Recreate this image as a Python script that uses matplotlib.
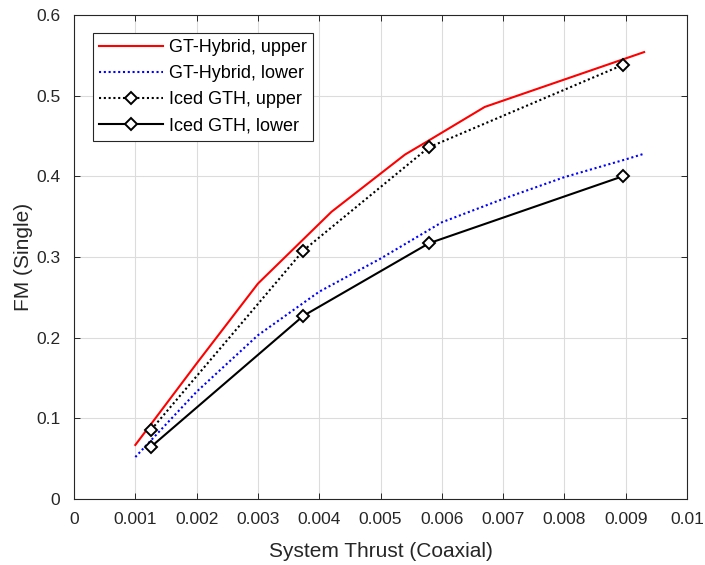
import matplotlib
matplotlib.use("Agg")
import matplotlib.pyplot as plt
import numpy as np

# GT-Hybrid curves
gth_x = [0.001, 0.002, 0.003, 0.0042, 0.0054, 0.0058, 0.0067, 0.0093]
gth_upper = [0.067, 0.168, 0.267, 0.356, 0.427, 0.445, 0.486, 0.554]
gthl_x = [0.001, 0.002, 0.003, 0.004, 0.005, 0.006, 0.007, 0.008, 0.009, 0.0093]
gth_lower = [0.052, 0.133, 0.203, 0.257, 0.298, 0.343, 0.372, 0.399, 0.421, 0.428]

# Iced GTH points
iced_x = [0.00126, 0.00374, 0.00579, 0.00895]
iced_upper = [0.086, 0.308, 0.436, 0.538]
iced_lower = [0.065, 0.227, 0.317, 0.400]

xticks = np.arange(0, 0.0101, 0.001)
xlabels = ["0", "0.001", "0.002", "0.003", "0.004", "0.005",
           "0.006", "0.007", "0.008", "0.009", "0.01"]
yticks = [0, 0.1, 0.2, 0.3, 0.4, 0.5, 0.6]
ylabels = ["0", "0.1", "0.2", "0.3", "0.4", "0.5", "0.6"]

plt.rcParams['font.family'] = ['Liberation Sans', 'DejaVu Sans']

fig = plt.figure(figsize=(7.05, 5.65), dpi=100)
ax = fig.add_axes([0.105, 0.1168, 0.8695, 0.8567])

ax.plot(gth_x, gth_upper, color='red', lw=1.5, label='GT-Hybrid, upper')
ax.plot(gthl_x, gth_lower, color='blue', lw=1.5, ls=(0, (1, 1.3)),
        label='GT-Hybrid, lower')
ax.plot(iced_x, iced_upper, color='black', lw=1.5, ls=(0, (1, 1.3)),
        marker='D', ms=6.5, mfc='white', mec='black', mew=1.4,
        label='Iced GTH, upper')
ax.plot(iced_x, iced_lower, color='black', lw=1.5,
        marker='D', ms=6.5, mfc='white', mec='black', mew=1.4,
        label='Iced GTH, lower')

ax.set_xlim(0, 0.01)
ax.set_ylim(0, 0.6)
ax.set_xticks(xticks)
ax.set_xticklabels(xlabels)
ax.set_yticks(yticks)
ax.set_yticklabels(ylabels)

gray = '#262626'
for s in ax.spines.values():
    s.set_color(gray)
    s.set_linewidth(0.8)
ax.tick_params(direction='in', length=4, width=0.7, colors=gray,
               labelcolor=gray, labelsize=12.5, top=True, right=True)
ax.tick_params(axis='x', pad=9)
ax.tick_params(axis='y', pad=10)
ax.grid(True, color='#dcdcdc', lw=0.8)
ax.set_axisbelow(True)

ax.set_xlabel('System Thrust (Coaxial)', fontsize=15, color=gray, labelpad=11)
ax.set_ylabel('FM (Single)', fontsize=15, color=gray, labelpad=2)

leg = ax.legend(loc='upper left', bbox_to_anchor=(0.031, 0.963), fontsize=13,
                handlelength=3.5, handletextpad=0.35, borderpad=0.35,
                labelspacing=0.5, fancybox=False, framealpha=1,
                edgecolor=gray, borderaxespad=0)
leg.get_frame().set_linewidth(0.8)

fig.savefig('out.png', dpi=100)
